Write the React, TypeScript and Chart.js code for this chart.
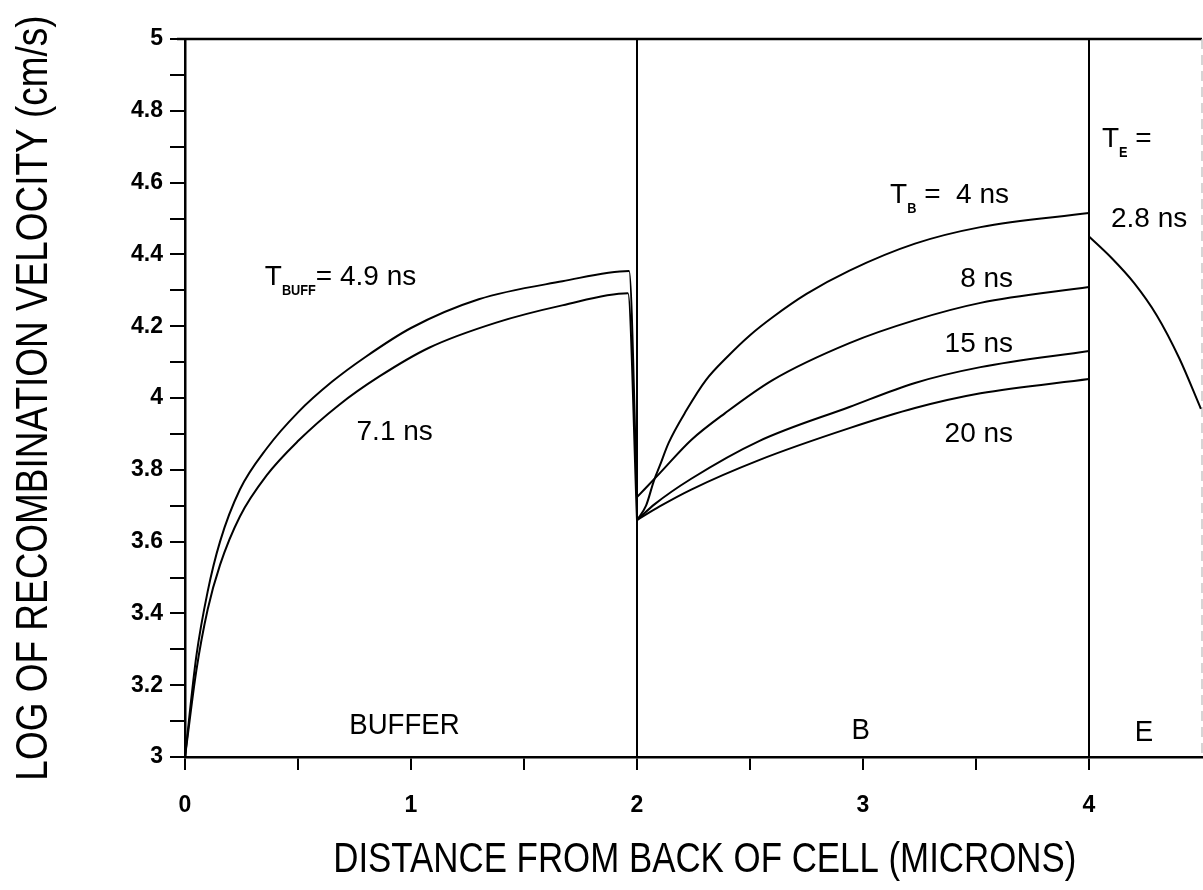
import { useEffect, useRef } from "react";
import { Chart, registerables } from "chart.js";

Chart.register(...registerables);

// ---------------- data ----------------
// Buffer region, T_BUFF = 4.9 ns (upper) and 7.1 ns (lower)
const buff49X = [0, 0.05, 0.1, 0.155, 0.243, 0.362, 0.5, 0.65, 0.8, 1.0, 1.3, 1.67, 1.965, 2.0];
const buff49Y = [3.0, 3.28, 3.46, 3.6, 3.745, 3.86, 3.96, 4.045, 4.115, 4.195, 4.275, 4.325, 4.354, 3.724];
const buff71X = [0, 0.05, 0.1, 0.155, 0.243, 0.362, 0.5, 0.68, 0.86, 1.08, 1.377, 1.669, 1.96, 2.0];
const buff71Y = [3.0, 3.24, 3.41, 3.535, 3.67, 3.785, 3.88, 3.98, 4.06, 4.14, 4.21, 4.258, 4.292, 3.66];

// Base region, T_B = 4, 8, 15, 20 ns
const base4X = [2.0, 2.04, 2.075, 2.1, 2.14, 2.22, 2.305, 2.4, 2.5, 2.6, 2.75, 2.94, 3.23, 3.52, 4.0];
const base4Y = [3.66, 3.7, 3.77, 3.81, 3.875, 3.967, 4.05, 4.115, 4.175, 4.225, 4.29, 4.355, 4.43, 4.476, 4.515];
const base8X = [2.0, 2.1, 2.24, 2.39, 2.6, 2.94, 3.23, 3.52, 4.0];
const base8Y = [3.724, 3.79, 3.883, 3.958, 4.05, 4.153, 4.217, 4.265, 4.309];
const base15X = [2.0, 2.08, 2.24, 2.54, 2.94, 3.23, 3.52, 4.0];
const base15Y = [3.66, 3.705, 3.775, 3.88, 3.975, 4.042, 4.086, 4.131];
const base20X = [2.0, 2.1, 2.24, 2.54, 2.94, 3.23, 3.52, 4.0];
const base20Y = [3.66, 3.698, 3.745, 3.827, 3.916, 3.972, 4.013, 4.053];

// Emitter region, T_E = 2.8 ns
const emitX = [4.0, 4.1, 4.2, 4.3, 4.4, 4.495];
const emitY = [4.45, 4.39, 4.32, 4.23, 4.11, 3.97];

// Region boundaries
const boundaryAX = [2, 2];
const boundaryBX = [4, 4];
const boundaryY = [3, 5];

// Axis ticks
const xTickValues = [0, 0.5, 1, 1.5, 2, 2.5, 3, 3.5, 4];
const yTickValues = [3, 3.1, 3.2, 3.3, 3.4, 3.5, 3.6, 3.7, 3.8, 3.9, 4, 4.1, 4.2, 4.3, 4.4, 4.5, 4.6, 4.7, 4.8, 4.9, 5];

const xTitle = "DISTANCE FROM BACK OF CELL (MICRONS)";
const yTitle = "LOG OF RECOMBINATION VELOCITY (cm/s)";

type Run = { t: string; sub?: boolean };
type CurveLabel = { x: number; y: number; align: "left" | "right"; runs: Run[] };

const curveLabels: CurveLabel[] = [
  { x: 0.353, y: 4.315, align: "left", runs: [{ t: "T" }, { t: "BUFF", sub: true }, { t: "= 4.9 ns" }] },
  { x: 0.759, y: 3.883, align: "left", runs: [{ t: "7.1 ns" }] },
  { x: 3.12, y: 4.543, align: "left", runs: [{ t: "T" }, { t: "B", sub: true }, { t: " =  4 ns" }] },
  { x: 3.664, y: 4.309, align: "right", runs: [{ t: "8 ns" }] },
  { x: 3.664, y: 4.128, align: "right", runs: [{ t: "15 ns" }] },
  { x: 3.664, y: 3.877, align: "right", runs: [{ t: "20 ns" }] },
  { x: 4.057, y: 4.7, align: "left", runs: [{ t: "T" }, { t: "E", sub: true }, { t: " =" }] },
  { x: 4.097, y: 4.475, align: "left", runs: [{ t: "2.8 ns" }] },
];

const regionLabels = [
  { x: 0.971, y: 3.086, t: "BUFFER" },
  { x: 2.99, y: 3.072, t: "B" },
  { x: 4.243, y: 3.067, t: "E" },
];

const FONT = "'Liberation Sans', Arial, Helvetica, sans-serif";

const overlay = {
  id: "overlay",
  beforeDatasetsDraw(chart: any) {
    const { ctx, chartArea } = chart;
    ctx.save();
    ctx.strokeStyle = "#000";
    ctx.lineWidth = 2.5;
    ctx.beginPath();
    ctx.moveTo(chartArea.left - 8, chartArea.top);
    ctx.lineTo(chartArea.right, chartArea.top);
    ctx.stroke();
    ctx.strokeStyle = "#c8c8c8";
    ctx.lineWidth = 1.5;
    ctx.setLineDash([10, 6]);
    ctx.beginPath();
    ctx.moveTo(chartArea.right, chartArea.top);
    ctx.lineTo(chartArea.right, chartArea.bottom);
    ctx.stroke();
    ctx.restore();
  },
  afterDraw(chart: any) {
    const { ctx, chartArea } = chart;
    const xs = chart.scales.x;
    const ys = chart.scales.y;
    ctx.save();
    ctx.fillStyle = "#000";

    const mainFont = `28px ${FONT}`;
    const subFont = `bold 15px ${FONT}`;
    const subScale = 0.85;

    for (const lab of curveLabels) {
      let total = 0;
      const widths = lab.runs.map((r) => {
        ctx.font = r.sub ? subFont : mainFont;
        const w = ctx.measureText(r.t).width * (r.sub ? subScale : 1);
        total += w;
        return w;
      });
      let px = xs.getPixelForValue(lab.x);
      const py = ys.getPixelForValue(lab.y);
      if (lab.align === "right") px -= total;
      ctx.textAlign = "left";
      ctx.textBaseline = "alphabetic";
      lab.runs.forEach((r, i) => {
        ctx.save();
        ctx.font = r.sub ? subFont : mainFont;
        ctx.translate(px, r.sub ? py + 10 : py);
        if (r.sub) ctx.scale(subScale, 1);
        ctx.fillText(r.t, 0, 0);
        ctx.restore();
        px += widths[i];
      });
    }

    for (const r of regionLabels) {
      ctx.save();
      ctx.font = `30px ${FONT}`;
      ctx.textAlign = "center";
      ctx.textBaseline = "middle";
      ctx.translate(xs.getPixelForValue(r.x), ys.getPixelForValue(r.y));
      ctx.scale(0.92, 1);
      ctx.fillText(r.t, 0, 0);
      ctx.restore();
    }

    ctx.save();
    ctx.font = `42px ${FONT}`;
    ctx.textAlign = "center";
    ctx.textBaseline = "middle";
    ctx.translate(xs.getPixelForValue(2.3), chartArea.bottom + 103);
    ctx.scale(0.83, 1);
    ctx.fillText(xTitle, 0, 0);
    ctx.restore();

    ctx.save();
    ctx.font = `44px ${FONT}`;
    ctx.textAlign = "center";
    ctx.textBaseline = "middle";
    ctx.translate(35, (chartArea.top + chartArea.bottom) / 2);
    ctx.rotate(-Math.PI / 2);
    ctx.scale(0.84, 1);
    ctx.fillText(yTitle, 0, 0);
    ctx.restore();

    ctx.restore();
  },
};

const toPoints = (xs: number[], ys: number[]) => xs.map((x, i) => ({ x, y: ys[i] }));

export default function App() {
  const ref = useRef<HTMLCanvasElement>(null);

  useEffect(() => {
    const canvas = ref.current;
    if (!canvas) return;
    const curve = (xs: number[], ys: number[], smooth = true) => ({
      data: toPoints(xs, ys),
      borderColor: "#000",
      borderWidth: 2,
      pointRadius: 0,
      showLine: true,
      fill: false,
      cubicInterpolationMode: smooth ? "monotone" : "default",
      tension: 0,
    });
    const chart = new Chart(canvas, {
      type: "scatter",
      data: {
        datasets: [
          curve(buff49X, buff49Y),
          curve(buff71X, buff71Y),
          curve(base4X, base4Y),
          curve(base8X, base8Y),
          curve(base15X, base15Y),
          curve(base20X, base20Y),
          curve(emitX, emitY),
          curve(boundaryAX, boundaryY, false),
          curve(boundaryBX, boundaryY, false),
        ] as any,
      },
      options: {
        animation: false,
        responsive: true,
        maintainAspectRatio: false,
        layout: { padding: { top: 39, right: 1, left: 0, bottom: 0 } },
        plugins: {
          legend: { display: false },
          tooltip: { enabled: false },
          title: { display: false },
        },
        scales: {
          x: {
            type: "linear",
            min: 0,
            max: 4.5,
            afterBuildTicks: (s: any) => {
              s.ticks = xTickValues.map((v) => ({ value: v }));
            },
            afterFit: (s: any) => {
              s.height = 133;
            },
            ticks: {
              autoSkip: false,
              maxRotation: 0,
              callback: (v: any) => (Number.isInteger(v) ? String(v) : ""),
              font: { family: FONT, size: 23, weight: "bold" },
              color: "#000",
              padding: 22,
            },
            grid: { drawOnChartArea: false, drawTicks: true, tickLength: 13, color: "#000", lineWidth: 2 },
            border: { display: true, color: "#000", width: 2.5 },
          },
          y: {
            type: "linear",
            min: 3,
            max: 5,
            afterBuildTicks: (s: any) => {
              s.ticks = yTickValues.map((v) => ({ value: v }));
            },
            afterFit: (s: any) => {
              s.width = 185;
            },
            ticks: {
              autoSkip: false,
              callback: (v: any) => {
                const r = Math.round(Number(v) * 10);
                return r % 2 === 0 ? String(r / 10) : "";
              },
              font: { family: FONT, size: 23, weight: "bold" },
              color: "#000",
              padding: 7,
            },
            grid: { drawOnChartArea: false, drawTicks: true, tickLength: 15, color: "#000", lineWidth: 2 },
            border: { display: true, color: "#000", width: 2.5 },
          },
        },
      } as any,
      plugins: [overlay],
    });
    return () => chart.destroy();
  }, []);

  return (
    <div style={{ position: "absolute", left: 0, top: 0, width: 1203, height: 890, background: "#fff" }}>
      <canvas ref={ref} />
    </div>
  );
}
